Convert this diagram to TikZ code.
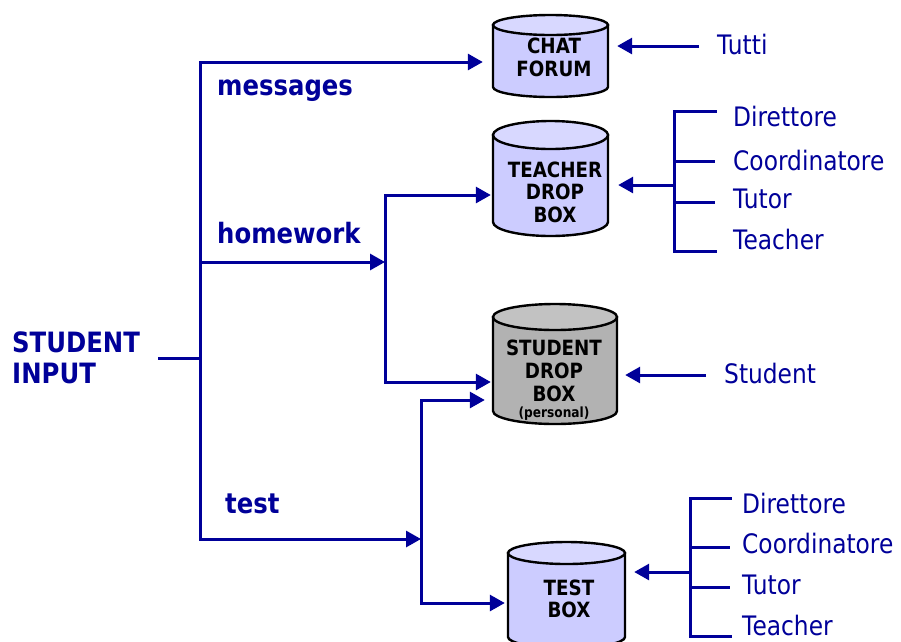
\documentclass[tikz,border=0pt]{standalone}
\usepackage{fontspec}
\setmainfont{DejaVu Sans}[FakeStretch=0.87]
\usetikzlibrary{arrows.meta}
\definecolor{navy}{HTML}{000099}
\definecolor{lav}{HTML}{CCCCFF}
\definecolor{lavtop}{HTML}{D8D8FF}
\definecolor{grey1}{HTML}{B2B2B2}
\definecolor{grey2}{HTML}{C2C2C2}
\newcommand\drum[8]{%
  \filldraw[drumline, fill=#7] (#2,#4+#6) -- (#2,#5-#6) arc[start angle=180,end angle=0,x radius={(#3-#2)/2},y radius=#6] -- (#3,#4+#6) -- cycle;
  \filldraw[drumline, fill=#8] ({(#2+#3)/2},#4+#6) ellipse[x radius={(#3-#2)/2}, y radius=#6];
  \path ({(#2+#3)/2},{(#4+#5)/2}) node[inner sep=0pt, minimum width={(#3-#2)*1pt}, minimum height={(#5-#4)*1pt}] (#1) {};
}
\begin{document}
\begin{tikzpicture}[x=1pt,y=-1pt,
  drumline/.style={draw=black, line width=2.4pt},
  wire/.style={draw=navy, line width=3pt},
  arr/.style={wire, -{Triangle[length=15pt,width=16pt]}},
  blab/.style={text=navy, font=\bfseries\fontsize{28}{32}\selectfont, anchor=base west, inner sep=0pt},
  rlab/.style={text=navy, font=\fontsize{26.8}{30}\selectfont, anchor=base west, inner sep=0pt},
  dtext/.style={text=black, font=\bfseries\fontsize{21}{22.5}\selectfont, anchor=base, inner sep=0pt}
]
\useasboundingbox (0,0) rectangle (901,641);

% drums
\drum{chat}{493}{608}{15}{97}{10}{lav}{lavtop}
\drum{teacher}{493}{608}{121}{236}{14}{lav}{lavtop}
\drum{student}{493}{617}{304}{424}{13}{grey1}{grey2}
\drum{testb}{508}{625}{542}{648}{11}{lav}{lavtop}

\node[dtext] (tchat) at (554,53) {CHAT};
\node[dtext] (tchat2) at (554,76) {FORUM};
\node[dtext] (tteach) at (555,177) {TEACHER};
\node[dtext] (tteach2) at (555,199) {DROP};
\node[dtext] (tteach3) at (555,222) {BOX};
\node[dtext] (tstud) at (554,355) {STUDENT};
\node[dtext] (tstud2) at (554,378) {DROP};
\node[dtext] (tstud3) at (554,401) {BOX};
\node[text=black, font=\bfseries\fontsize{14}{15}\selectfont, anchor=base, inner sep=0pt] (tpers) at (554,417) {(personal)};
\node[dtext] (ttest) at (569,595) {TEST};
\node[dtext] (ttest2) at (569,617) {BOX};

% left labels
\node[blab] (sin) at (12,352) {STUDENT};
\node[blab] (sin2) at (12,383) {INPUT};
\node[blab] (msg) at (217,95) {messages};
\node[blab] (hw) at (217,243) {homework};
\node[blab] (tst) at (225,513) {test};

% junctions
\coordinate (in) at (158,358);
\coordinate (jm) at (200,358);
\coordinate (hj) at (385,262);
\coordinate (tj) at (421,539);

\draw[wire] (in) -- (jm);
\draw[arr, shorten >=10pt] (jm) |- (chat.west |- 0,62);
\draw[arr] (jm) |- (hj);
\draw[arr] (jm) |- (tj);
\draw[arr, shorten >=2pt] (hj) |- (teacher.west |- 0,195);
\draw[arr, shorten >=2pt] (hj) |- (student.west |- 0,382);
\draw[arr, shorten >=8pt] (tj) |- (student.west |- 0,400);
\draw[arr, shorten >=3pt] (tj) |- (testb.west |- 0,603);

% right side: Tutti
\node[rlab] (tutti) at (717,54) {Tutti};
\coordinate (tu) at (699,46);
\draw[arr, shorten >=9pt] (tu) -- (chat.east |- tu);

% teacher group
\node[rlab] (d1) at (733,126) {Direttore};
\node[rlab] (c1) at (733,170) {Coordinatore};
\node[rlab] (u1) at (733,208) {Tutor};
\node[rlab] (e1) at (733,249) {Teacher};
\coordinate (b1a) at (674,111);
\coordinate (b1d) at (674,251);
\draw[wire, line cap=rect] (715,111) -- (b1a) -- (b1d) -- (715,251);
\draw[wire] (b1a |- 0,161) -- (715,161);
\draw[wire] (b1a |- 0,202) -- (715,202);
\coordinate (b1m) at (674,185);
\draw[arr, shorten >=10pt] (b1m) -- (teacher.east |- b1m);

% student
\node[rlab] (stu) at (724,383) {Student};
\coordinate (su) at (706,375);
\draw[arr, shorten >=8pt] (su) -- (student.east |- su);

% test group
\node[rlab] (d2) at (742,513) {Direttore};
\node[rlab] (c2) at (742,553) {Coordinatore};
\node[rlab] (u2) at (742,594) {Tutor};
\node[rlab] (e2) at (742,635) {Teacher};
\coordinate (b2a) at (690,498);
\coordinate (b2d) at (690,636);
\draw[wire, line cap=rect] (730,498) -- (b2a) -- (b2d) -- (730,636);
\draw[wire] (b2a |- 0,547) -- (730,547);
\draw[wire] (b2a |- 0,587) -- (730,587);
\coordinate (b2m) at (690,572);
\draw[arr, shorten >=9pt] (b2m) -- (testb.east |- b2m);
\end{tikzpicture}
\end{document}
